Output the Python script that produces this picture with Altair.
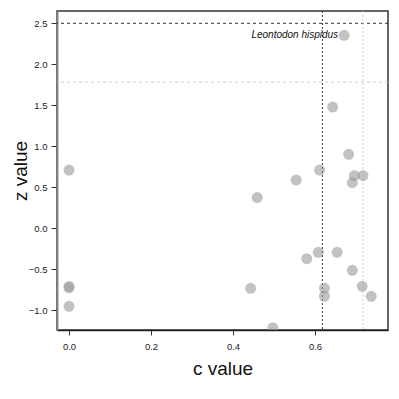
import altair as alt
import pandas as pd

c_vals = [0.0, 0.0, 0.0, 0.0, 0.671, 0.643, 0.682, 0.611, 0.554, 0.696, 0.717, 0.691,
          0.459, 0.580, 0.608, 0.654, 0.691, 0.443, 0.623, 0.623, 0.715, 0.737, 0.497]
z_vals = [0.711, -0.708, -0.726, -0.951, 2.354, 1.479, 0.902, 0.711, 0.589, 0.642, 0.642, 0.556,
          0.375, -0.371, -0.293, -0.293, -0.512, -0.732, -0.732, -0.829, -0.707, -0.829, -1.212]
label_text = ["Leontodon hispidus"]
label_c = [0.671]
label_z = [2.354]
hline_dark = [2.5]
hline_light = [1.784]
vline_dark = [0.618]
vline_light = [0.717]
x_ticks = [0.0, 0.2, 0.4, 0.6]
y_ticks = [-1.0, -0.5, 0.0, 0.5, 1.0, 1.5, 2.0, 2.5]

FONT = "Liberation Sans"
W, H = 331, 319
xs = alt.Scale(domain=[-0.0293, 0.778], nice=False, zero=False)
ys = alt.Scale(domain=[-1.24, 2.65], nice=False, zero=False)

pts = pd.DataFrame({"c": c_vals, "z": z_vals})
lab = pd.DataFrame({"c": label_c, "z": label_z, "t": label_text})

points = alt.Chart(pts).mark_circle(size=120, color="#999999", opacity=0.6, clip=True).encode(
    x=alt.X("c:Q", scale=xs, axis=alt.Axis(
        title="c value", values=x_ticks, format=".1f", grid=False,
        labelFont=FONT, labelFontSize=9.5, labelColor="#222", labelPadding=6,
        tickSize=5, tickColor="#333", domainColor="#222", domainWidth=1.5,
        titleFont=FONT, titleFontSize=19, titleFontWeight="normal", titleColor="#111",
        titleY=38, titleBaseline="middle")),
    y=alt.Y("z:Q", scale=ys, axis=alt.Axis(
        title="z value", values=y_ticks, format=".1f", grid=False,
        labelFont=FONT, labelFontSize=9.5, labelColor="#222", labelPadding=4,
        tickSize=6, tickColor="#333", domainColor="#888", domainWidth=2,
        titleFont=FONT, titleFontSize=19, titleFontWeight="normal", titleColor="#111",
        titleX=-37, titleY=159.5, titleAngle=-90, titleAlign="center", titleBaseline="middle")),
)

h1 = alt.Chart(pd.DataFrame({"z": hline_dark})).mark_rule(color="#333", strokeDash=[3, 3], strokeWidth=1).encode(y=alt.Y("z:Q", scale=ys))
h2 = alt.Chart(pd.DataFrame({"z": hline_light})).mark_rule(color="#ccc", strokeDash=[3, 3], strokeWidth=1).encode(y=alt.Y("z:Q", scale=ys))
v1 = alt.Chart(pd.DataFrame({"c": vline_dark})).mark_rule(color="#333", strokeDash=[2, 2], strokeWidth=1).encode(x=alt.X("c:Q", scale=xs))
v2 = alt.Chart(pd.DataFrame({"c": vline_light})).mark_rule(color="#ccc", strokeDash=[2, 2], strokeWidth=1).encode(x=alt.X("c:Q", scale=xs))

text = alt.Chart(lab).mark_text(align="right", baseline="middle", dx=-6, font=FONT,
                                fontSize=10, fontStyle="italic", color="#111").encode(
    x=alt.X("c:Q", scale=xs), y=alt.Y("z:Q", scale=ys), text="t:N")

chart = alt.layer(h1, h2, v1, v2, points, text).properties(
    width=W, height=H,
    autosize=alt.AutoSizeParams(type="none"),
    padding={"left": 49, "top": 3, "right": 3, "bottom": 50},
).configure_view(stroke="#333", strokeWidth=1.5)

chart.save("out.html", embed_options={"renderer": "svg", "actions": False})
